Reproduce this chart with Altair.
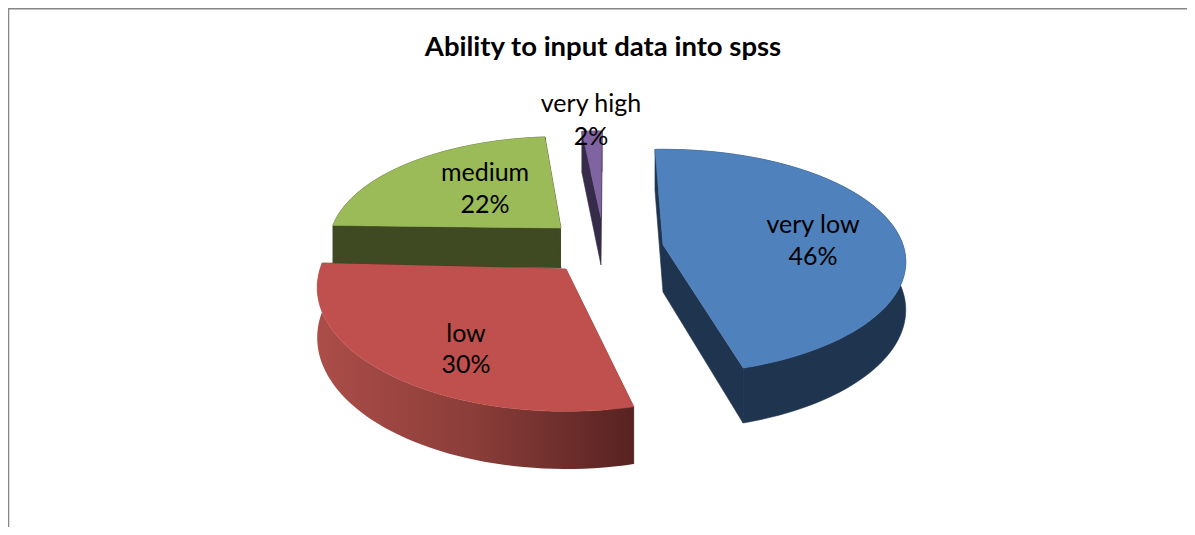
import math
import altair as alt
import pandas as pd

TITLE = "Ability to input data into spss"
categories = ["very low", "low", "medium", "very high"]
shares = [46, 30, 22, 2]

# tilt and explode geometry of the 3-D pie, one entry per slice
apex = {"very low": (663, 245), "low": (566, 269), "medium": (561, 228), "very high": (601, 218)}
radius = {"very low": (240, 110), "low": (246, 121), "medium": (229, 105), "very high": (225, 100)}
depth = {"very low": 47, "low": 49, "medium": 40, "very high": 47}
nudge = {"very low": (0.0, 0.0), "low": (3.0, 1.5), "medium": (0.0, 4.8), "very high": (3.8, 2.5)}
top_fill = {"very low": "#4F81BD", "low": "#C0504D", "medium": "#9BBB59", "very high": "#8064A2"}
wall_fill = {"very low": "#1F344F", "low": "#6B2C29", "medium": "#3F4A22", "very high": "#372B4A"}
label_pos = {"very low": (813, 225, 257), "low": (466, 334, 365), "medium": (485, 173, 205), "very high": (591, 104, 137)}
paint_order = ["very high", "medium", "very low", "low"]
ROTATION = -2.2
TILT = 0.15
FONT = "Lato"
X = alt.X("x:Q", axis=None, scale=alt.Scale(domain=[8, 1187], nice=False, zero=False))
Y = alt.Y("y:Q", axis=None, scale=alt.Scale(domain=[527, 8], nice=False, zero=False))


def rim(cat, t):
    a = math.radians(t)
    w = 1 + TILT * math.cos(a)
    ax, ay = apex[cat]
    rx, ry = radius[cat]
    return ax + rx * math.sin(a) / w, ay - ry * math.cos(a) / w, depth[cat] / w


def poly(points, **mark):
    df = pd.DataFrame([{"i": i, "x": p[0], "y": p[1]} for i, p in enumerate(points)])
    return alt.Chart(df).mark_line(**mark).encode(x=X, y=Y, order="i:Q")


layers = []
angles = {}
t = ROTATION
for cat, s in zip(categories, shares):
    span = s * 3.6
    angles[cat] = (t + nudge[cat][0], t + span + nudge[cat][1])
    t += span

for cat in paint_order:
    t0, t1 = angles[cat]
    n = max(2, int((t1 - t0) / 2))
    ts = [t0 + (t1 - t0) * k / n for k in range(n + 1)]
    arc = [rim(cat, a) for a in ts]
    ax, ay = apex[cat]
    h = depth[cat]
    flat = dict(fill=wall_fill[cat], stroke=wall_fill[cat], strokeWidth=0.6)
    for p in (arc[0], arc[-1]):
        layers.append(poly([(ax, ay), (p[0], p[1]), (p[0], p[1] + p[2]), (ax, ay + h)], **flat))
    outer = [(p[0], p[1]) for p in arc] + [(p[0], p[1] + p[2]) for p in reversed(arc)]
    if cat == "low":
        grad = alt.LinearGradient(
            gradient="linear", x1=0, x2=1, y1=0, y2=0,
            stops=[alt.GradientStop(color="#AC4D48", offset=0),
                   alt.GradientStop(color="#8A3D39", offset=0.5),
                   alt.GradientStop(color="#572321", offset=1)],
        )
        layers.append(poly(outer, fill=grad, strokeWidth=0))
    else:
        layers.append(poly(outer, **flat))
    top = [(ax, ay)] + [(p[0], p[1]) for p in arc]
    layers.append(poly(top, fill=top_fill[cat], stroke=top_fill[cat], strokeWidth=0.5))

base = alt.Chart(pd.DataFrame({"k": [0]}))
GREY = "#868686"
layers.append(base.mark_rule(color=GREY, strokeWidth=1.5).encode(x=alt.value(0.5), y=alt.value(0), y2=alt.value(519)))
layers.append(base.mark_rule(color=GREY, strokeWidth=1.5).encode(y=alt.value(0.7), x=alt.value(0), x2=alt.value(1179)))

for cat, s in zip(categories, shares):
    lx, y1, y2 = label_pos[cat]
    for text, ly in ((cat, y1), (f"{s}%", y2)):
        layers.append(
            alt.Chart(pd.DataFrame({"label": [text]}))
            .mark_text(font=FONT, fontSize=25, color="#000000", align="center", baseline="middle")
            .encode(text="label:N", x=alt.value(lx - 8), y=alt.value(ly - 8))
        )
layers.append(
    alt.Chart(pd.DataFrame({"label": [TITLE]}))
    .mark_text(font=FONT, fontSize=27.5, fontWeight="bold", color="#000000", align="center", baseline="middle")
    .encode(text="label:N", x=alt.value(603 - 8), y=alt.value(48 - 8))
)

chart = (
    alt.layer(*layers)
    .properties(width=1179, height=519, padding=0, autosize=alt.AutoSizeParams(type="none"), background="#FFFFFF")
    .configure_view(stroke=None)
)
chart.save("out.html", embed_options={"renderer": "svg", "actions": False})
